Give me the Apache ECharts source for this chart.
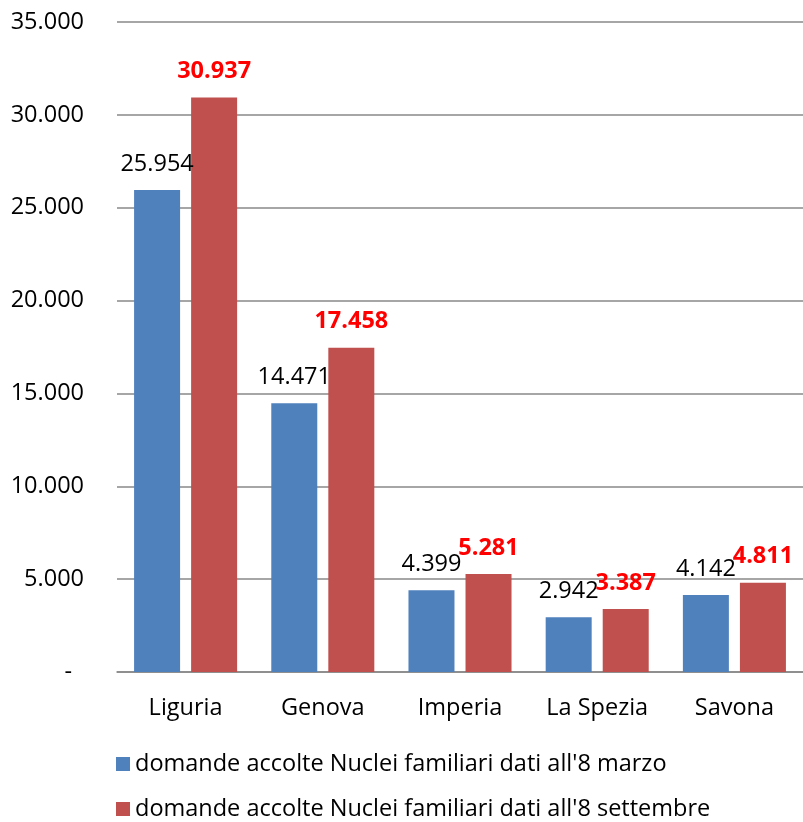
<!DOCTYPE html>
<html><head><meta charset="utf-8">
<script src="https://cdn.jsdelivr.net/npm/echarts@6/dist/echarts.min.js"></script>
<style>html,body{margin:0;padding:0;background:#fff}#c{width:803px;height:822px}</style>
</head><body><div id="c"></div>
<script>
const categories = ['Liguria', 'Genova', 'Imperia', 'La Spezia', 'Savona'];
const marzo = [25954, 14471, 4399, 2942, 4142];
const settembre = [30937, 17458, 5281, 3387, 4811];
const seriesNames = ["domande accolte Nuclei familiari dati all'8 marzo", "domande accolte Nuclei familiari dati all'8 settembre"];

const FONT = 'Open Sans';
const FS = 23.5;
function fmt(v) { return String(Math.round(v)).replace(/\B(?=(\d{3})+(?!\d))/g, '.'); }

const legendBase = {
  orient: 'vertical', left: 116, padding: 0,
  itemWidth: 14, itemHeight: 14, itemGap: 0,
  icon: 'rect',
  textStyle: {fontFamily: FONT, fontSize: FS, color: '#000'}
};

const chart = echarts.init(document.getElementById('c'), null, {renderer: 'canvas'});
chart.setOption({
  animation: false,
  textStyle: {fontFamily: FONT},
  grid: {left: 117, top: 22, width: 689, bottom: 150, containLabel: false},
  legend: [
    Object.assign({}, legendBase, {top: 752, data: [seriesNames[0]]}),
    Object.assign({}, legendBase, {top: 797, data: [seriesNames[1]]})
  ],
  xAxis: {
    type: 'category', data: categories,
    axisLine: {lineStyle: {color: '#888', width: 1.5}},
    axisTick: {show: false},
    axisLabel: {fontFamily: FONT, fontSize: FS, color: '#000', margin: 24}
  },
  yAxis: {
    type: 'value', min: 0, max: 35000, interval: 5000,
    axisLine: {show: false}, axisTick: {show: false},
    splitLine: {lineStyle: {color: '#888', width: 1.5}},
    axisLabel: {
      fontFamily: FONT, fontSize: FS, color: '#000', margin: 33,
      formatter: v => v === 0 ? '{z|-}' : fmt(v),
      rich: {z: {fontFamily: FONT, fontSize: FS, color: '#000', padding: [0, 12, 0, 0]}}
    }
  },
  series: [
    {
      name: seriesNames[0], type: 'bar', data: marzo,
      barWidth: 46, barGap: '24%',
      itemStyle: {color: '#4F81BD'},
      label: {show: true, position: 'top', distance: 14, fontFamily: FONT, fontSize: FS, color: '#000',
        formatter: p => fmt(p.value)}
    },
    {
      name: seriesNames[1], type: 'bar', data: settembre,
      barWidth: 46,
      itemStyle: {color: '#C0504D'},
      label: {show: true, position: 'top', distance: 14, fontFamily: FONT, fontSize: FS, fontWeight: 'bold', color: '#FF0000',
        formatter: p => fmt(p.value)}
    }
  ]
});
</script></body></html>
